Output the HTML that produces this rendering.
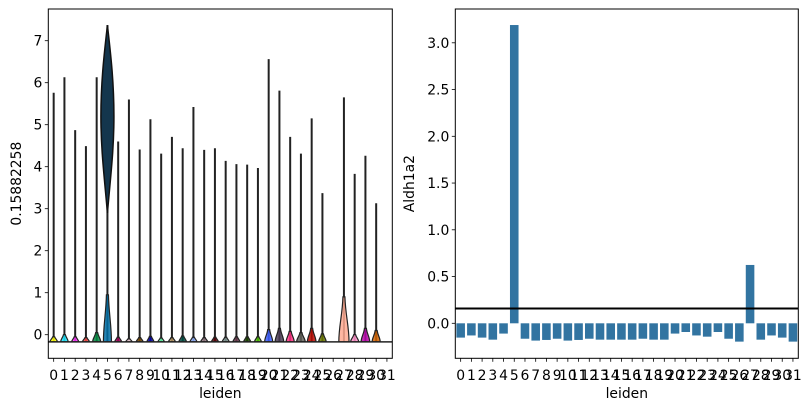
<!DOCTYPE html>
<html><head><meta charset="utf-8"><style>
body{margin:0;background:#fff}
svg{display:block;font-family:"DejaVu Sans","Liberation Sans",sans-serif}
</style></head><body>
<svg id="s" width="811" height="411" viewBox="0 0 811 411"></svg>
<script>
const categories=[...Array(32).keys()].map(String);
const colors=["#FFFF00","#1CE6FF","#FF34FF","#FF4A46","#008941","#006FA6","#A30059","#FFDBE5","#7A4900","#0000A6","#63FFAC","#B79762","#004D43","#8FB0FF","#997D87","#5A0007","#809693","#6A3A4C","#1B4400","#4FC601","#3B5DFF","#4A3B53","#FF2F80","#61615A","#BA0900","#6B7900","#00C2A0","#FFAA92","#FF90C9","#B903AA","#D16100","#DDEFFF"];
const violinMax=[5.76,6.13,4.87,4.49,6.13,7.37,4.6,5.6,4.41,5.13,4.31,4.71,4.44,5.42,4.4,4.44,4.14,4.06,4.05,3.97,6.56,5.81,4.71,4.31,5.15,3.37,-0.17,5.65,3.83,4.26,3.13,-0.17];
const violinBumpTop=[-0.05,0.0,-0.05,-0.07,0.05,0.95,-0.06,-0.1,-0.07,-0.04,-0.08,-0.07,-0.03,-0.06,-0.07,-0.06,-0.06,-0.05,-0.05,-0.05,0.12,0.15,0.08,0.05,0.15,0.02,-0.17,0.9,0.0,0.15,0.1,-0.17];
const violinBumpWidth=[0.7,0.7,0.65,0.65,0.75,0.75,0.65,0.6,0.65,0.65,0.6,0.65,0.7,0.65,0.65,0.65,0.65,0.65,0.65,0.65,0.75,0.8,0.75,0.8,0.8,0.7,0,0.95,0.75,0.8,0.75,0];
const violinBottom=-0.17;
const barValues=[-0.153,-0.13,-0.153,-0.175,-0.11,3.19,-0.165,-0.185,-0.178,-0.165,-0.185,-0.178,-0.165,-0.175,-0.175,-0.175,-0.175,-0.165,-0.175,-0.175,-0.11,-0.093,-0.13,-0.143,-0.093,-0.165,-0.196,0.624,-0.175,-0.13,-0.153,-0.196];
const hlineValue=0.158;
const leftTicks=[0,1,2,3,4,5,6,7];
const rightTicks=[0,0.5,1,1.5,2,2.5,3];
const rightTickLabels=["0.0","0.5","1.0","1.5","2.0","2.5","3.0"];

const NS="http://www.w3.org/2000/svg",S=document.getElementById('s');
function el(t,a,p){const e=document.createElementNS(NS,t);for(const k in a)e.setAttribute(k,a[k]);(p||S).appendChild(e);return e;}
function txt(x,y,s,a,p){const e=el('text',Object.assign({x:x,y:y,'font-size':'13.9px',fill:'#000'},a),p);e.textContent=s;return e;}

const L={x0:48.3,x1:392.3,y0:9,y1:358.3};
const lx=i=>L.x0+(i+0.5)*(L.x1-L.x0)/32;
const ly=v=>334.7-42*v;
const slotL=(L.x1-L.x0)/32;
const gL=el('g',{});


categories.forEach((c,i)=>{
  const g=el('g',{},gL);
  
  
  const cx=lx(i);
  if(violinMax[i]>violinBottom+0.01){
    el('line',{x1:cx,x2:cx,y1:ly(violinBottom),y2:ly(violinMax[i]),stroke:'#222','stroke-width':2},g);
  }
  const hw=violinBumpWidth[i]*slotL/2;
  if(hw>0){
    const yb=ly(violinBottom),yt=ly(violinBumpTop[i]);
    const d=`M${cx-hw},${yb} C${cx-hw},${yb-(yb-yt)*0.35} ${cx-1.5},${yb-(yb-yt)*0.6} ${cx-1},${yt} L${cx+1},${yt} C${cx+1.5},${yb-(yb-yt)*0.6} ${cx+hw},${yb-(yb-yt)*0.35} ${cx+hw},${yb} Z`;
    el('path',{d:d,fill:colors[i],'fill-opacity':0.85,stroke:'#222','stroke-width':1.2},g);
  }
  if(i===5){
    const w=6.5;
    const d=`M${cx},${ly(2.9)} C${cx-w*0.5},${ly(3.8)} ${cx-w},${ly(4.4)} ${cx-w},${ly(5.2)} C${cx-w},${ly(6.1)} ${cx-w*0.4},${ly(6.8)} ${cx},${ly(violinMax[i])} C${cx+w*0.4},${ly(6.8)} ${cx+w},${ly(6.1)} ${cx+w},${ly(5.2)} C${cx+w},${ly(4.4)} ${cx+w*0.5},${ly(3.8)} ${cx},${ly(2.9)} Z`;
    el('path',{d:d,fill:'#14364d',stroke:'#111','stroke-width':1.5},g);
  }
});
el('line',{x1:L.x0,x2:L.x1,y1:ly(violinBottom),y2:ly(violinBottom),stroke:'#222','stroke-width':1.5},gL);
el('rect',{x:L.x0,y:L.y0,width:L.x1-L.x0,height:L.y1-L.y0,fill:'none',stroke:'#000','stroke-width':1});
leftTicks.forEach(v=>{
  const y=ly(v);
  el('line',{x1:L.x0-3.5,x2:L.x0,y1:y,y2:y,stroke:'#000','stroke-width':0.8});
  const t=txt(L.x0-6,y+5,String(v),{'text-anchor':'end'});
  
  
});
categories.forEach((c,i)=>{
  const x=lx(i);
  el('line',{x1:x,x2:x,y1:L.y1,y2:L.y1+3.5,stroke:'#000','stroke-width':0.8});
  const t=txt(x,380,c,{'text-anchor':'middle'});
  
  
});
txt((L.x0+L.x1)/2,398,'leiden',{'text-anchor':'middle'});
txt(0,0,'0.15882258',{'text-anchor':'middle',transform:`translate(21,${(L.y0+L.y1)/2}) rotate(-90)`});

const R={x0:455.3,x1:798.3,y0:9,y1:358.3};
const slotR=(R.x1-R.x0)/32;
const rx=i=>R.x0+(i+0.5)*slotR;
const ry=v=>323.3-93.5*v;
const gR=el('g',{});


barValues.forEach((v,i)=>{
  const y=Math.min(ry(0),ry(v)),h=Math.abs(ry(v)-ry(0));
  const b=el('rect',{x:rx(i)-slotR*0.4,y:y,width:slotR*0.8,height:h,fill:'#3274a1'},gR);
  
  
});
const hl=el('line',{x1:R.x0,x2:R.x1,y1:ry(hlineValue),y2:ry(hlineValue),stroke:'#000','stroke-width':2});


el('rect',{x:R.x0,y:R.y0,width:R.x1-R.x0,height:R.y1-R.y0,fill:'none',stroke:'#000','stroke-width':1});
rightTicks.forEach((v,k)=>{
  const y=ry(v);
  el('line',{x1:R.x0-3.5,x2:R.x0,y1:y,y2:y,stroke:'#000','stroke-width':0.8});
  const t=txt(R.x0-6,y+5,rightTickLabels[k],{'text-anchor':'end'});
  
  
});
categories.forEach((c,i)=>{
  const x=rx(i);
  el('line',{x1:x,x2:x,y1:R.y1,y2:R.y1+3.5,stroke:'#000','stroke-width':0.8});
  const t=txt(x,380,c,{'text-anchor':'middle'});
  
  
});
txt((R.x0+R.x1)/2,398,'leiden',{'text-anchor':'middle'});
txt(0,0,'Aldh1a2',{'text-anchor':'middle',transform:`translate(414,${(R.y0+R.y1)/2}) rotate(-90)`});
</script>
</body></html>
